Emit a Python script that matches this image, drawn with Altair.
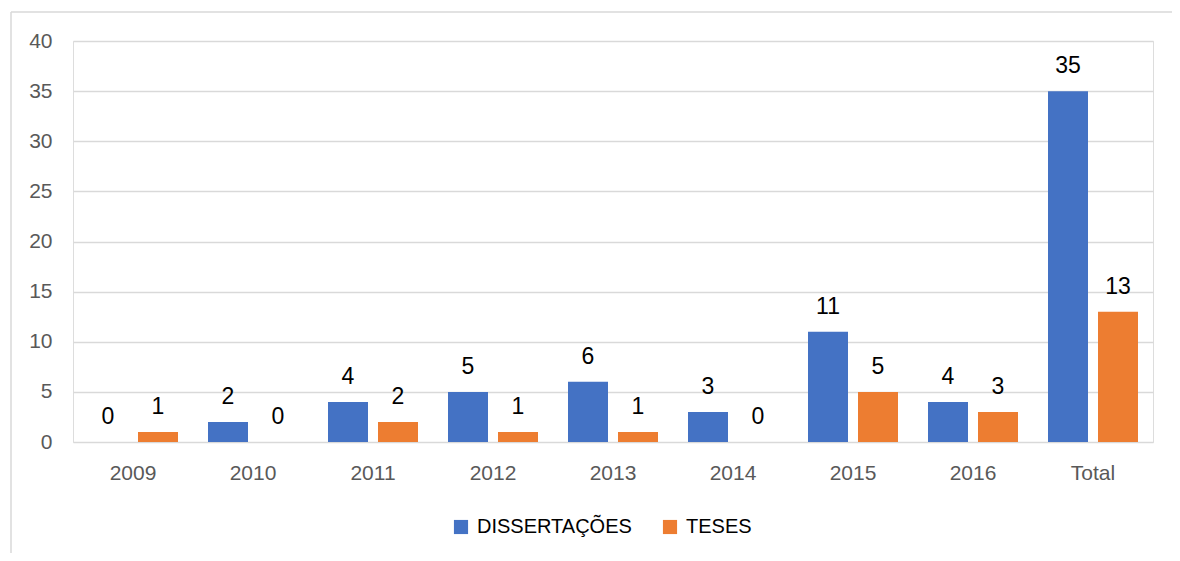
import altair as alt
import pandas as pd

categories = ["2009", "2010", "2011", "2012", "2013", "2014", "2015", "2016", "Total"]
dissertacoes = [0, 2, 4, 5, 6, 3, 11, 4, 35]
teses = [1, 0, 2, 1, 1, 0, 5, 3, 13]
series = ["DISSERTAÇÕES", "TESES"]
colors = ["#4472C4", "#ED7D31"]
y_ticks = [0, 5, 10, 15, 20, 25, 30, 35, 40]

rows = []
for c, d, t in zip(categories, dissertacoes, teses):
    rows.append({"cat": c, "serie": series[0], "valor": d})
    rows.append({"cat": c, "serie": series[1], "valor": t})
df = pd.DataFrame(rows)

FONT = "Liberation Sans"

base = alt.Chart(df).encode(
    x=alt.X("cat:N", sort=categories,
            scale=alt.Scale(paddingInner=0, paddingOuter=0),
            axis=alt.Axis(title=None, labelAngle=0, ticks=False, tickSize=0, domain=False,
                          grid=False, labelPadding=20, labelFontSize=21,
                          labelColor="#595959", labelFont=FONT)),
    xOffset=alt.XOffset("serie:N", sort=series,
                        scale=alt.Scale(paddingInner=0.2, paddingOuter=0.3)),
    y=alt.Y("valor:Q", scale=alt.Scale(domain=[0, 40], nice=False),
            axis=alt.Axis(values=y_ticks, title=None, ticks=False, tickSize=0, domain=False,
                          grid=True, gridColor="#D9D9D9", gridWidth=1.3,
                          labelPadding=21, labelFontSize=21, labelColor="#595959",
                          labelFont=FONT)),
)

bars = base.mark_bar().encode(
    color=alt.Color("serie:N", sort=series,
                    scale=alt.Scale(domain=series, range=colors),
                    legend=alt.Legend(title=None, orient="none", direction="horizontal",
                                      legendX=378, legendY=476,
                                      symbolType="square", symbolSize=200,
                                      symbolStrokeWidth=0, labelFontSize=20,
                                      labelFont=FONT, labelColor="#000000",
                                      labelLimit=0, labelOffset=6, columnPadding=28))
)

labels = base.mark_text(baseline="alphabetic", dy=-18, fontSize=23, font=FONT,
                        color="#000000").encode(text="valor:Q")

frame = alt.Data(values=[{}])
border_top = alt.Chart(frame).mark_rule(stroke="#D9D9D9", strokeWidth=1.5).encode(
    x=alt.value(-62), x2=alt.value(1200), y=alt.value(-29))
border_left = alt.Chart(frame).mark_rule(stroke="#D9D9D9", strokeWidth=1.5).encode(
    x=alt.value(-62), y=alt.value(-29), y2=alt.value(700))

chart = alt.layer(border_top, border_left, bars, labels).properties(
    width=1080, height=401,
    autosize=alt.AutoSizeParams(type="none"),
    padding={"left": 65, "right": 19, "top": 33, "bottom": 111},
).configure_view(stroke=None).configure(background="white")

chart.save("out.html", embed_options={"renderer": "svg", "actions": False})
